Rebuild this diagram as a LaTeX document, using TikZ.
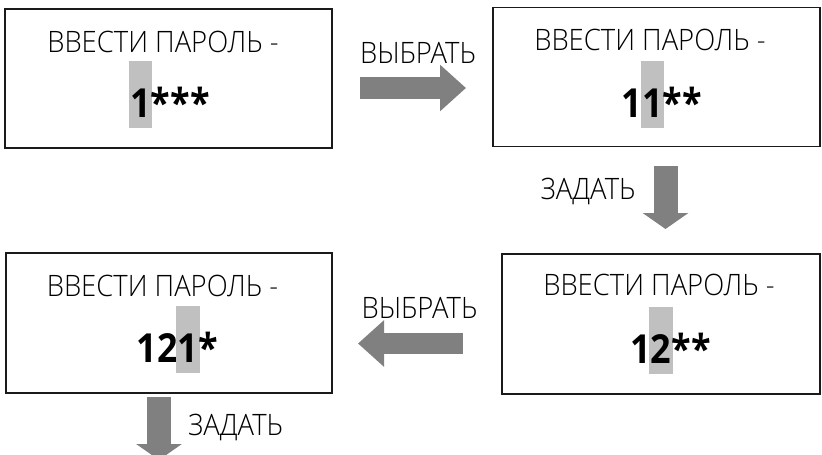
\documentclass[tikz,border=0pt]{standalone}
\usepackage{fontspec}
\setmainfont[FakeStretch=0.9]{Open Sans}
\newfontfamily\lightfont[FakeStretch=0.93]{Open Sans Light}
\usetikzlibrary{arrows.meta}
\definecolor{arrowgray}{HTML}{808080}
\definecolor{hlgray}{HTML}{C0C0C0}
\definecolor{frame}{HTML}{1A1A1A}
\newcommand\hlchar[1]{\setbox0\hbox{#1}\rlap{\hspace{-1.5pt}\textcolor{hlgray}{\rule[-11pt]{\dimexpr\wd0+3pt\relax}{67pt}}}\box0}
\tikzset{
  screen/.style={draw=frame, line width=1.5pt, minimum width=327pt, minimum height=139pt, inner sep=0pt},
  prompt/.style={anchor=base, inner sep=0pt, font=\lightfont\fontsize{29.5}{34}\selectfont},
  digits/.style={anchor=base, inner sep=0pt, font=\fontsize{40}{44}\selectfont\bfseries},
  lbl/.style={anchor=base, inner sep=0pt, font=\lightfont\fontsize{29.5}{34}\selectfont},
  blockarrow/.style={draw=arrowgray, line width=#1, -{Triangle[width=45pt,length=26pt,fill=arrowgray]}},
  blockdown/.style={draw=arrowgray, line width=#1, -{Triangle[width=45pt,length=16pt,fill=arrowgray]}}
}
\begin{document}
\begin{tikzpicture}[x=1pt,y=-1pt]
\useasboundingbox (0,0) rectangle (822,455);
\clip (0,0) rectangle (822,455);
% screens
\node[screen] (b1) at (168.5,78.5) {};
\node[screen] (b2) at (656.5,77) {};
\node[screen, minimum width=326pt, minimum height=140pt] (b3) at (169,323) {};
\node[screen, minimum width=318pt, minimum height=140pt] (b4) at (661,324) {};
% texts
\node[prompt] (t1) at (163,52) {ВВЕСТИ ПАРОЛЬ -};
\node[digits] (n1) at (170,117) {\hlchar{1}***};
\node[prompt] (t2) at (650,50) {ВВЕСТИ ПАРОЛЬ -};
\node[digits] (n2) at (662,117) {1\hlchar{1}**};
\node[prompt] (t3) at (162.5,296) {ВВЕСТИ ПАРОЛЬ -};
\node[digits] (n3) at (177.5,362) {12\hlchar{1}*};
\node[prompt] (t4) at (659,295) {ВВЕСТИ ПАРОЛЬ -};
\node[digits] (n4) at (670.5,363) {1\hlchar{2}**};
% arrow end points
\coordinate (a1s) at (360,88);
\coordinate (a1e) at (466,88);
\coordinate (a2s) at (665.5,166);
\coordinate (a2e) at (665.5,229);
\coordinate (a3s) at (463,343.5);
\coordinate (a3e) at (358,343.5);
\coordinate (a4s) at (159,397);
\coordinate (a4e) at (159,460);
\draw[blockarrow=22pt] (a1s) -- (a1e);
\draw[blockdown=24pt] (a2s) -- (a2e);
\draw[blockarrow=21pt] (a3s) -- (a3e);
\draw[blockdown=24pt] (a4s) -- (a4e);
% labels
\node[lbl] (l1) at (418,63) {ВЫБРАТЬ};
\node[lbl] (l2) at (588,199) {ЗАДАТЬ};
\node[lbl] (l3) at (419.5,318) {ВЫБРАТЬ};
\node[lbl] (l4) at (235.5,435) {ЗАДАТЬ};
\end{tikzpicture}
\end{document}
